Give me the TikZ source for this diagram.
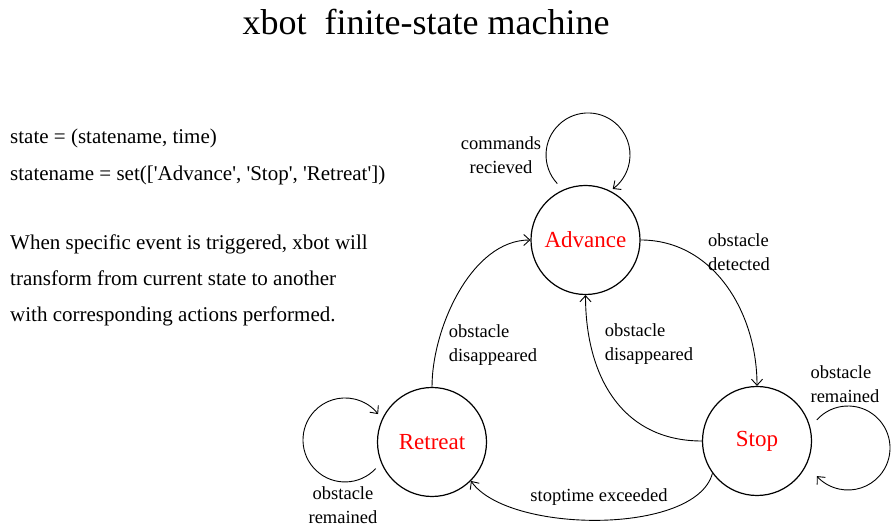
\documentclass[tikz,border=0pt]{standalone}
\usepackage{fontspec}
\setmainfont{Liberation Serif}
\usetikzlibrary{arrows.meta}
\newcommand{\sq}{\textquotesingle}
\tikzset{
  statenode/.style={circle,draw,line width=1.2pt,minimum size=109pt,inner sep=0pt,text=red,font=\fontsize{23}{27}\selectfont},
  arr/.style={line width=0.9pt,-{Straight Barb[length=6pt,width=11pt,line width=0.9pt]}},
  lbl/.style={font=\fontsize{18.5}{24}\selectfont,inner sep=0pt},
  body/.style={font=\fontsize{21}{25}\selectfont,anchor=base west,inner sep=0pt},
}
\begin{document}
\begin{tikzpicture}[x=1pt,y=1pt]
\useasboundingbox (0,0) rectangle (893,532);
% title
\node[font=\fontsize{36}{40}\selectfont,anchor=base,inner sep=0pt] (title) at (426,497) {xbot\ \ finite-state machine};
% left text
\node[body] (t1) at (10,388) {state = (statename, time)};
\node[body] (t2) at (10,351) {statename = set([\sq Advance\sq, \sq Stop\sq, \sq Retreat\sq])};
\node[body] (t3) at (10,282) {When specific event is triggered, xbot will};
\node[body] (t4) at (10,246) {transform from current state to another};
\node[body] (t5) at (10,210) {with corresponding actions performed.};
% states
\node[statenode] (adv) at (585.5,292) {Advance};
\node[statenode] (ret) at (432,90) {Retreat};
\node[statenode] (stop) at (757,91) {Stop};
% transitions
\draw[arr] (adv.east) to[out=0,in=90] (stop.north);
\draw[arr] (stop.west) to[out=180,in=-90,looseness=1.1] (adv.south);
\draw[arr] (ret.north) to[out=90,in=180,looseness=0.85] (adv.west);
\draw[arr] (stop.216) to[out=-105,in=-55,looseness=0.68] (ret.-45);
% self loops
\coordinate (advloop) at (557.3,348.4);
\coordinate (retloop) at (375.7,63.4);
\coordinate (stoploop) at (816.8,112.1);
\draw[arr] (advloop) arc[start angle=223,end angle=-54,radius=42];
\draw[arr] (retloop) arc[start angle=317,end angle=38,radius=42];
\draw[arr] (stoploop) arc[start angle=138,end angle=-138,radius=42];
% labels
\node[lbl,align=center] (l1) at (501,377) {commands\\recieved};
\node[lbl,align=left] (l2) at (739,280) {obstacle\\detected};
\node[lbl,align=left] (l3) at (649,188) {obstacle\\disappeared};
\node[lbl,align=left] (l4) at (493,187) {obstacle\\disappeared};
\node[lbl,align=left] (l5) at (845,148) {obstacle\\remained};
\node[lbl,align=center] (l6) at (343,27) {obstacle\\remained};
\node[lbl] (l7) at (599,35) {stoptime exceeded};
\end{tikzpicture}
\end{document}
